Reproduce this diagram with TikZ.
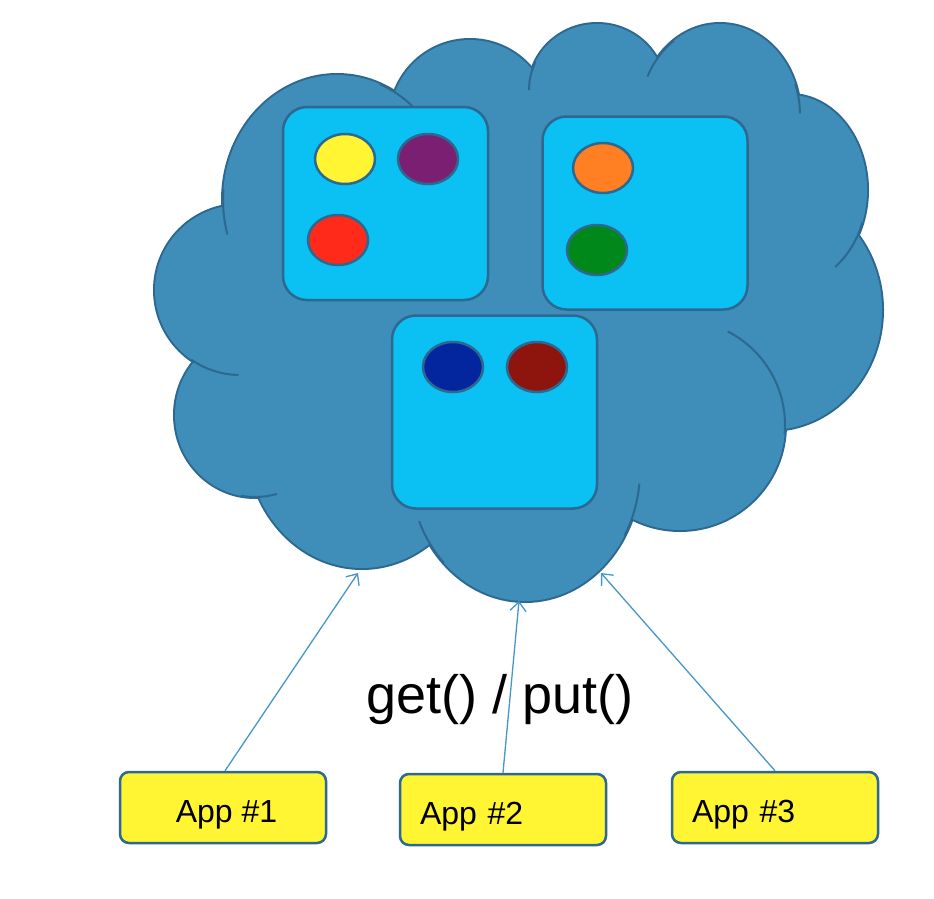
\documentclass[tikz,border=0pt]{standalone}
\usepackage{fontspec}
\setmainfont{Liberation Sans}
\usepackage{tikz}
\usetikzlibrary{shapes,arrows}
\usetikzlibrary{arrows.meta}
\usetikzlibrary{calc}
\usetikzlibrary{positioning}
\definecolor{cloudfill}{RGB}{62,142,185}
\definecolor{cloudline}{RGB}{44,104,144}
\definecolor{boxfill}{RGB}{11,192,242}
\definecolor{appfill}{RGB}{255,245,51}
\definecolor{flowline}{RGB}{70,150,200}
\tikzstyle{group} = [draw=cloudline, fill=boxfill, line width=2.5pt,
    rounded corners=24pt, minimum width=205pt, minimum height=193pt]
\tikzstyle{obj} = [draw=cloudline, line width=2.5pt, ellipse,
    minimum width=60pt, minimum height=50pt, inner sep=0pt]
\tikzstyle{app} = [draw=cloudline, fill=appfill, line width=2.5pt,
    rounded corners=9pt, minimum width=206pt, minimum height=71pt,
    text height=31pt, text depth=2pt, font=\fontsize{32}{38}\selectfont]
\tikzstyle{stub} = [draw=cloudline, line width=2pt]
\tikzstyle{flow} = [draw=flowline, line width=1.3pt]

\begin{document}
\begin{tikzpicture}[x=1pt, y=-1pt, >={Straight Barb[length=9pt,width=16pt]}]
      \useasboundingbox (0,0) rectangle (934,898);

      % cloud
      \foreach \cx/\cy/\rx/\ry in {337/200/114/125, 470/120/80/80, 597/90/68/66,
          720/115/80/91, 790/190/77/95, 770/310/112/120, 680/425/105/105,
          525/470/115/131, 362/440/115/128, 255/415/80/82, 240/290/85/85}
        \draw [draw=cloudline, line width=4pt] (\cx,\cy) ellipse [x radius=\rx, y radius=\ry];
      \foreach \cx/\cy/\rx/\ry in {337/200/114/125, 470/120/80/80, 597/90/68/66,
          720/115/80/91, 790/190/77/95, 770/310/112/120, 680/425/105/105,
          525/470/115/131, 362/440/115/128, 255/415/80/82, 240/290/85/85}
        \fill [cloudfill] (\cx,\cy) ellipse [x radius=\rx, y radius=\ry];
      \fill [cloudfill] (337,200) -- (470,120) -- (597,90) -- (720,115) -- (790,190)
          -- (770,310) -- (680,425) -- (525,470) -- (362,440) -- (255,415)
          -- (240,290) -- cycle;
      \foreach \cx/\cy/\rx/\ry/\a/\b in {337/200/114/125/185/164, 337/200/114/125/292/312,
          597/90/68/66/205/180, 720/115/80/91/235/205, 720/115/80/91/340/359,
          790/190/77/95/20/54, 680/425/105/105/297/365, 525/470/115/131/30/6,
          525/470/115/131/135/157, 255/415/80/82/100/74, 240/290/85/85/125/91}
        \draw [stub] (\cx,\cy) ++({\a}:{\rx} and {\ry})
          arc [start angle=\a, end angle=\b, x radius=\rx, y radius=\ry];

      % groups
      \node [group] (grp1) at (385.5,203.5) {};
      \node [group] (grp2) at (645,213) {};
      \node [group] (grp3) at (494.5,412) {};

      \node [obj, fill=appfill] (yellow) at (345,159) {};
      \node [obj, fill={rgb,255:red,122;green,31;blue,114}] (purple) at (428,159) {};
      \node [obj, fill={rgb,255:red,255;green,42;blue,26}] (red) at (338,240) {};
      \node [obj, fill={rgb,255:red,255;green,127;blue,34}] (orange) at (603,168) {};
      \node [obj, fill={rgb,255:red,0;green,136;blue,26}] (green) at (597,250) {};
      \node [obj, fill={rgb,255:red,3;green,38;blue,158}] (blue) at (453,367) {};
      \node [obj, fill={rgb,255:red,142;green,21;blue,13}] (darkred) at (537,367) {};

      % apps
      \node [app] (app1) at (223,807.5) {\hspace{7pt}App \#1};
      \node [app, right=71.5pt of app1, yshift=-2pt, text width=166pt, align=left,
          inner xsep=20pt] (app2) {App \#2};
      \node [app, right=63.5pt of app2, yshift=2pt, text width=166pt, align=left,
          inner xsep=20pt] (app3) {App \#3};

      \node [font=\fontsize{54}{60}\selectfont] (getput) at (500,700) {get() / put()};

      \coordinate (tip1) at (358,573);
      \coordinate (tip2) at (519,601);
      \coordinate (tip3) at (601,573);

      \draw [flow,->] (app1.north) ++(2,0) -- (tip1);
      \draw [flow,->] (app2.north) -- (tip2);
      \draw [flow,->] (app3.north) -- (tip3);
    \end{tikzpicture}
\end{document}
